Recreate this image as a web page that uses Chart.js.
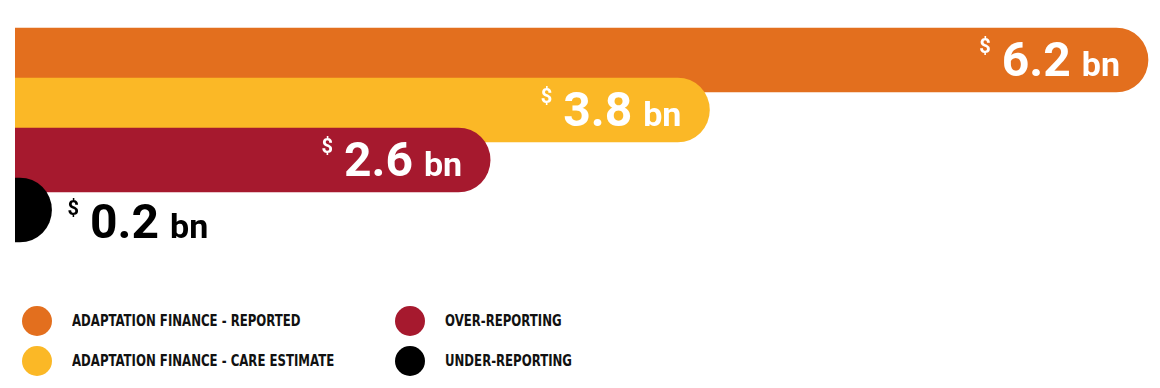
<!DOCTYPE html>
<html>
<head>
<meta charset="utf-8">
<script src="https://cdn.jsdelivr.net/npm/chart.js@4"></script>
<style>
    html, body {
        margin: 0;
        padding: 0;
        background: #ffffff;
    }
    .wrap {
        position: relative;
        width: 1160px;
        height: 388px;
        overflow: hidden;
    }
    .chart-box {
        position: absolute;
        left: 0;
        top: 0;
        width: 1160px;
        height: 260px;
    }
    .legend .item {
        position: absolute;
        display: flex;
        align-items: center;
        height: 30px;
        font-family: "DejaVu Sans Condensed", "Liberation Sans Narrow", sans-serif;
        font-weight: 700;
        font-size: 15px;
        color: #111111;
        white-space: nowrap;
    }
    .legend .dot {
        width: 30px;
        height: 30px;
        border-radius: 50%;
        margin-right: 20px;
    }
    .legend .name {
        display: inline-block;
        transform: scaleX(0.87);
        transform-origin: left center;
    }
</style>
</head>
<body>
<div class="wrap">
    <div class="chart-box"><canvas id="chart1"></canvas></div>
    <div class="legend" id="legend"></div>
</div>
<script>
// Data
const categories = ["ADAPTATION FINANCE - REPORTED", "ADAPTATION FINANCE - CARE ESTIMATE", "OVER-REPORTING", "UNDER-REPORTING"];
const values = [6.2, 3.8, 2.6, 0.2];
const valueLabels = ["6.2", "3.8", "2.6", "0.2"];
const colors = ["#E36F1E", "#FBB826", "#A6192E", "#000000"];
// End Data

// Legend (two columns)
const legendPos = [
    { left: 22, top: 306 },
    { left: 22, top: 346 },
    { left: 395, top: 306 },
    { left: 395, top: 346 }
];
const legend = document.querySelector("#legend");
categories.forEach((name, i) => {
    const item = document.createElement("div");
    item.className = "item";
    item.style.left = legendPos[i].left + "px";
    item.style.top = legendPos[i].top + "px";
    item.innerHTML = `<span class="dot" style="background:${colors[i]}"></span><span class="name">${name}</span>`;
    legend.appendChild(item);
});
// End Legend

// Value labels on the bars
const valueLabelPlugin = {
    id: "valueLabels",
    afterDatasetsDraw: (chart) => {
        const ctx = chart.ctx;
        const meta = chart.getDatasetMeta(0);
        const fontFamily = "Roboto, 'Liberation Sans', sans-serif";
        meta.data.forEach((bar, i) => {
            ctx.save();
            ctx.textBaseline = "alphabetic";
            ctx.textAlign = "left";

            ctx.font = `700 20px ${fontFamily}`;
            const wDollar = ctx.measureText("$").width;
            ctx.font = `700 48px ${fontFamily}`;
            const wNum = ctx.measureText(valueLabels[i]).width;
            ctx.font = `700 34px ${fontFamily}`;
            const wBn = ctx.measureText("bn").width;
            const total = wDollar + 11 + wNum + 11 + wBn;

            const barStart = chart.chartArea.left;
            const inside = bar.x - barStart > total + 60;
            let x, baseline;
            if (inside) {
                x = bar.x - 28 - total;
                baseline = bar.y + 16;
                ctx.fillStyle = "#ffffff";
            } else {
                x = bar.x + 16;
                baseline = bar.y + 28;
                ctx.fillStyle = "#000000";
            }

            ctx.font = `700 20px ${fontFamily}`;
            ctx.fillText("$", x, baseline - 23);
            x += wDollar + 11;
            ctx.font = `700 48px ${fontFamily}`;
            ctx.fillText(valueLabels[i], x, baseline);
            x += wNum + 11;
            ctx.font = `700 34px ${fontFamily}`;
            ctx.fillText("bn", x, baseline);
            ctx.restore();
        });
    }
};
// End Value labels

// Chart 1
const roundStart = 0.2; // bars start left of the axis so only the right end shows rounded
const chart1 = document.querySelector("#chart1");
if (chart1) {
    new Chart(chart1, {
        type: "bar",
        data: {
            labels: categories,
            datasets: [
                {
                    data: values.map(v => [-roundStart, v]),
                    backgroundColor: colors,
                    borderWidth: 0,
                    borderRadius: 32,
                    borderSkipped: false,
                    barThickness: 64,
                    clip: { left: 0, top: false, right: false, bottom: false }
                }
            ]
        },
        options: {
            indexAxis: "y",
            responsive: true,
            maintainAspectRatio: false,
            animation: false,
            layout: {
                padding: { left: 15, right: 12, top: 35, bottom: 25 }
            },
            plugins: {
                legend: { display: false },
                tooltip: { enabled: false }
            },
            scales: {
                x: {
                    display: false,
                    min: 0,
                    max: 6.2
                },
                y: {
                    display: false
                }
            }
        },
        plugins: [valueLabelPlugin]
    });
}
// End Chart 1
</script>
</body>
</html>
